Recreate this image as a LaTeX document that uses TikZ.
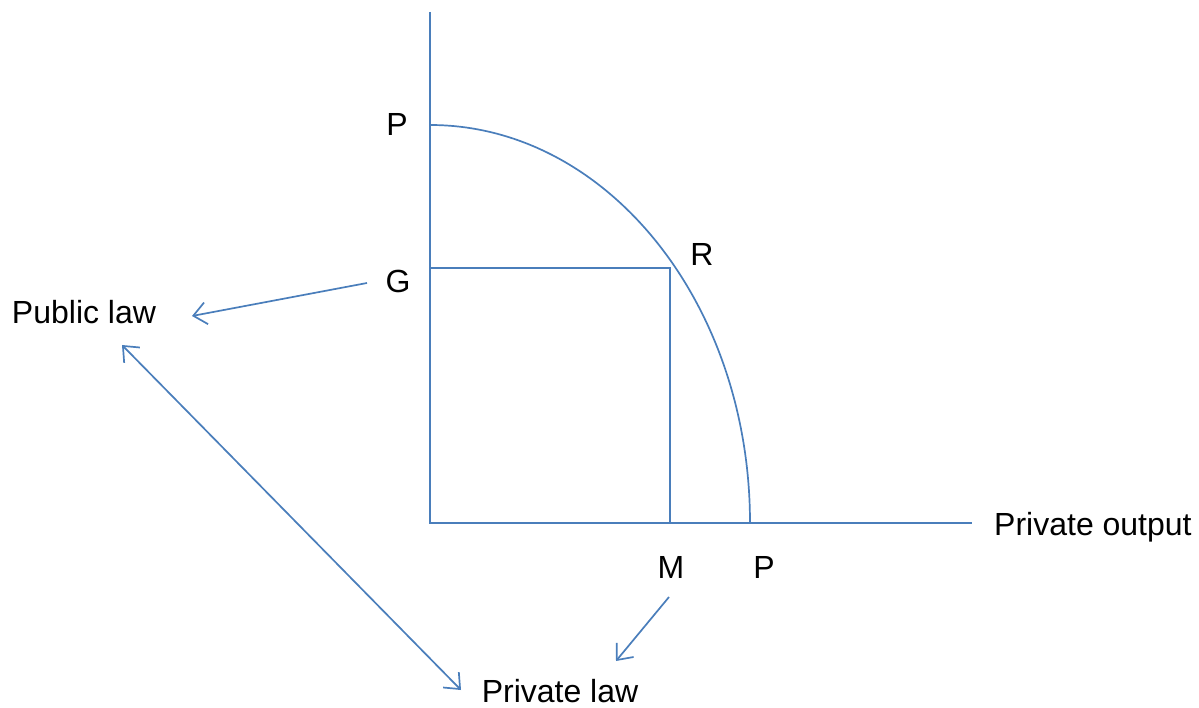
\documentclass[tikz,border=0pt]{standalone}
\usepackage{fontspec}
\setmainfont{Liberation Sans}
\usetikzlibrary{arrows.meta}
\definecolor{axisblue}{RGB}{74,126,187}
\begin{document}
\begin{tikzpicture}[x=1pt,y=-1pt,
  ln/.style={draw=axisblue,line width=1.7pt},
  arr/.style={ln,-{Straight Barb[length=13pt,width=22pt,line width=1.7pt]}},
  darr/.style={ln,{Straight Barb[length=13pt,width=22pt,line width=1.7pt]}-{Straight Barb[length=13pt,width=22pt,line width=1.7pt]}},
  lbl/.style={anchor=base,inner sep=0pt,font=\fontsize{32}{38}\selectfont}]
\useasboundingbox (0,0) rectangle (1199,708);
% axes
\coordinate (O) at (430,523);
\coordinate (Ytop) at (430,12);
\coordinate (Xend) at (972,523);
\coordinate (Pt) at (430,125);
\coordinate (Pr) at (750,523);
\coordinate (Gy) at (430,268);
\coordinate (Rc) at (670,268);
\coordinate (Mx) at (670,523);
\draw[ln] (Ytop) -- (O) -- (Xend);
\draw[ln] (Pt) arc[start angle=90,end angle=0,x radius=320,y radius=-398];
\draw[ln] (Gy) -- (Rc) -- (Mx);
% labels
\node[lbl] (lP1) at (397,136) {P};
\node[lbl] (lG) at (398,293) {G};
\node[lbl] (lR) at (702,266) {R};
\node[lbl] (lM) at (671,578) {M};
\node[lbl] (lP2) at (764,578) {P};
\node[lbl,anchor=base west] (lout) at (994,535) {Private output};
\node[lbl] (lpub) at (84,324) {Public law};
\node[lbl] (lpriv) at (560,702) {Private law};
% arrow ends
\coordinate (g1) at (367,283);
\coordinate (g2) at (192,316);
\coordinate (d1) at (122,345);
\coordinate (d2) at (461,690);
\coordinate (m1) at (669,597);
\coordinate (m2) at (616,661);
\draw[arr] (g1) -- (g2);
\draw[darr] (d1) -- (d2);
\draw[arr] (m1) -- (m2);
\end{tikzpicture}
\end{document}
